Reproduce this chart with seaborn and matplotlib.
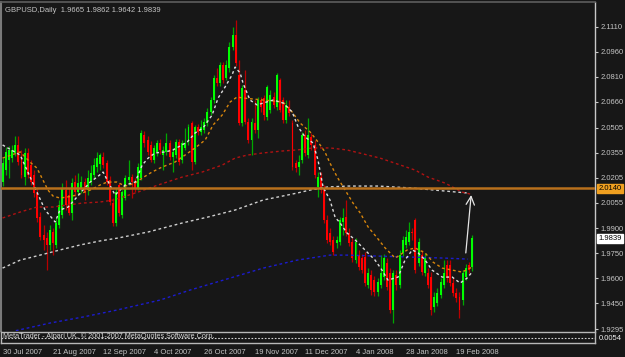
import matplotlib
matplotlib.use("Agg")
import matplotlib.pyplot as plt
import matplotlib.transforms as mtrans
import numpy as np
import pandas as pd
import seaborn as sns

# ---------------- data ----------------
symbol_title = "GBPUSD,Daily  1.9665 1.9862 1.9642 1.9839"

opens = [2.0178, 2.0250, 2.0310, 2.0322, 2.0353, 2.0401, 2.0328, 2.0208, 2.0353, 2.0280,
         2.0220, 2.0112, 1.9968, 1.9860, 1.9842, 1.9800, 1.9878, 1.9800, 1.9920, 1.9980,
         2.0130, 2.0100, 1.9992, 2.0178, 2.0118, 2.0142, 2.0178, 2.0130, 2.0178, 2.0220,
         2.0268, 2.0286, 2.0328, 2.0292, 2.0190, 2.0052, 1.9932, 2.0160, 1.9980, 2.0082,
         2.0190, 2.0208, 2.0178, 2.0142, 2.0202, 2.0461, 2.0431, 2.0401, 2.0310, 2.0359,
         2.0413, 2.0340, 2.0359, 2.0413, 2.0328, 2.0340, 2.0419, 2.0310, 2.0383, 2.0419,
         2.0533, 2.0298, 2.0509, 2.0479, 2.0491, 2.0533, 2.0599, 2.0671, 2.0803, 2.0773,
         2.0881, 2.0803, 2.0863, 2.0990, 2.1062, 2.0821, 2.0533, 2.0731, 2.0539, 2.0431,
         2.0533, 2.0491, 2.0671, 2.0683, 2.0569, 2.0611, 2.0689, 2.0629, 2.0791, 2.0671,
         2.0551, 2.0629, 2.0533, 2.0292, 2.0268, 2.0310, 2.0461, 2.0340, 2.0449, 2.0401,
         2.0148, 2.0208, 2.0130, 1.9950, 1.9872, 1.9830, 1.9812, 1.9818, 1.9938, 1.9968,
         1.9872, 1.9818, 1.9709, 1.9739, 1.9721, 1.9727, 1.9559, 1.9619, 1.9589, 1.9517,
         1.9559, 1.9607, 1.9691, 1.9631, 1.9409, 1.9619, 1.9559, 1.9752, 1.9800, 1.9818,
         1.9878, 1.9950, 1.9691, 1.9739, 1.9631, 1.9631, 1.9607, 1.9427, 1.9451, 1.9499,
         1.9559, 1.9679, 1.9679, 1.9571, 1.9511, 1.9487, 1.9469, 1.9607, 1.9679, 1.9665]
highs = [2.0322, 2.0389, 2.0395, 2.0401, 2.0455, 2.0455, 2.0371, 2.0383, 2.0383, 2.0310,
         2.0250, 2.0142, 1.9998, 1.9920, 1.9878, 1.9920, 1.9902, 1.9962, 2.0070, 2.0172,
         2.0190, 2.0142, 2.0202, 2.0220, 2.0232, 2.0214, 2.0202, 2.0250, 2.0280, 2.0322,
         2.0359, 2.0353, 2.0359, 2.0310, 2.0214, 2.0082, 2.0142, 2.0172, 2.0130, 2.0220,
         2.0310, 2.0226, 2.0202, 2.0292, 2.0491, 2.0485, 2.0455, 2.0425, 2.0401, 2.0431,
         2.0437, 2.0395, 2.0473, 2.0431, 2.0383, 2.0437, 2.0437, 2.0431, 2.0503, 2.0527,
         2.0545, 2.0521, 2.0527, 2.0551, 2.0563, 2.0623, 2.0689, 2.0821, 2.0863, 2.0899,
         2.0899, 2.0911, 2.1020, 2.1110, 2.1152, 2.0911, 2.0761, 2.0851, 2.0563, 2.0563,
         2.0671, 2.0689, 2.0689, 2.0701, 2.0761, 2.0731, 2.0719, 2.0833, 2.0803, 2.0689,
         2.0671, 2.0671, 2.0551, 2.0310, 2.0340, 2.0479, 2.0491, 2.0563, 2.0473, 2.0431,
         2.0238, 2.0238, 2.0160, 1.9980, 1.9902, 1.9854, 1.9854, 1.9968, 2.0022, 2.0070,
         1.9902, 1.9842, 1.9842, 1.9770, 1.9746, 1.9758, 1.9661, 1.9649, 1.9613, 1.9601,
         1.9739, 1.9746, 1.9721, 1.9661, 1.9649, 1.9649, 1.9770, 1.9854, 1.9890, 1.9938,
         1.9902, 1.9962, 1.9842, 1.9770, 1.9752, 1.9661, 1.9637, 1.9517, 1.9541, 1.9601,
         1.9709, 1.9709, 1.9709, 1.9601, 1.9541, 1.9517, 1.9649, 1.9685, 1.9697, 1.9862]
lows = [2.0154, 2.0220, 2.0202, 2.0298, 2.0334, 2.0280, 2.0202, 2.0160, 2.0202, 2.0160,
        2.0088, 1.9938, 1.9830, 1.9770, 1.9649, 1.9770, 1.9739, 1.9782, 1.9902, 1.9962,
        2.0010, 1.9980, 1.9950, 2.0094, 2.0100, 2.0112, 2.0070, 2.0100, 2.0160, 2.0202,
        2.0238, 2.0250, 2.0262, 2.0160, 2.0040, 1.9914, 1.9914, 1.9974, 1.9962, 2.0070,
        2.0160, 2.0082, 2.0118, 2.0130, 2.0190, 2.0389, 2.0340, 2.0298, 2.0292, 2.0334,
        2.0347, 2.0250, 2.0340, 2.0310, 2.0238, 2.0322, 2.0280, 2.0292, 2.0371, 2.0401,
        2.0250, 2.0286, 2.0461, 2.0461, 2.0473, 2.0515, 2.0581, 2.0653, 2.0755, 2.0755,
        2.0773, 2.0791, 2.0839, 2.0972, 2.0875, 2.0521, 2.0515, 2.0527, 2.0413, 2.0340,
        2.0473, 2.0443, 2.0599, 2.0551, 2.0551, 2.0593, 2.0623, 2.0611, 2.0599, 2.0533,
        2.0533, 2.0575, 2.0250, 2.0238, 2.0220, 2.0292, 2.0334, 2.0322, 2.0371, 2.0202,
        2.0088, 2.0112, 1.9932, 1.9812, 1.9800, 1.9739, 1.9782, 1.9800, 1.9860, 1.9854,
        1.9794, 1.9697, 1.9691, 1.9649, 1.9631, 1.9553, 1.9541, 1.9499, 1.9493, 1.9493,
        1.9541, 1.9589, 1.9529, 1.9391, 1.9331, 1.9529, 1.9541, 1.9733, 1.9782, 1.9800,
        1.9830, 1.9631, 1.9673, 1.9619, 1.9613, 1.9541, 1.9379, 1.9397, 1.9433, 1.9481,
        1.9541, 1.9577, 1.9553, 1.9493, 1.9457, 1.9361, 1.9439, 1.9589, 1.9631, 1.9642]
closes = [2.0292, 2.0359, 2.0371, 2.0371, 2.0401, 2.0298, 2.0220, 2.0353, 2.0220, 2.0178,
          2.0112, 1.9962, 1.9848, 1.9830, 1.9800, 1.9890, 1.9812, 1.9932, 2.0040, 2.0142,
          2.0040, 1.9992, 2.0172, 2.0118, 2.0172, 2.0178, 2.0118, 2.0202, 2.0232, 2.0280,
          2.0322, 2.0340, 2.0280, 2.0178, 2.0058, 1.9932, 2.0118, 1.9992, 2.0118, 2.0202,
          2.0208, 2.0178, 2.0142, 2.0268, 2.0473, 2.0413, 2.0359, 2.0310, 2.0383, 2.0413,
          2.0371, 2.0371, 2.0413, 2.0328, 2.0359, 2.0419, 2.0298, 2.0413, 2.0413, 2.0509,
          2.0298, 2.0509, 2.0479, 2.0509, 2.0539, 2.0599, 2.0671, 2.0803, 2.0773, 2.0881,
          2.0791, 2.0881, 2.0990, 2.1062, 2.0893, 2.0533, 2.0743, 2.0539, 2.0431, 2.0539,
          2.0491, 2.0671, 2.0629, 2.0581, 2.0749, 2.0701, 2.0641, 2.0821, 2.0611, 2.0551,
          2.0641, 2.0593, 2.0268, 2.0262, 2.0298, 2.0461, 2.0353, 2.0461, 2.0401, 2.0220,
          2.0208, 2.0130, 1.9950, 1.9830, 1.9818, 1.9758, 1.9830, 1.9950, 1.9962, 1.9872,
          1.9812, 1.9721, 1.9818, 1.9667, 1.9649, 1.9571, 1.9631, 1.9529, 1.9517, 1.9577,
          1.9631, 1.9721, 1.9547, 1.9409, 1.9631, 1.9559, 1.9739, 1.9830, 1.9848, 1.9878,
          1.9872, 1.9649, 1.9818, 1.9637, 1.9727, 1.9559, 1.9409, 1.9487, 1.9511, 1.9577,
          1.9631, 1.9601, 1.9571, 1.9511, 1.9481, 1.9409, 1.9631, 1.9661, 1.9649, 1.9839]

# moving averages, read as (bar position, price) samples
ma_fast_bar = [0, 5.6, 10.9, 13.5, 16.7, 18.2, 20.8, 23.6, 25.5, 27.8, 30.0, 31.9, 35.7, 38.9,
               42.1, 44.3, 46.2, 48.4, 51.6, 54.1, 58.6, 61.1, 63.6, 66.5, 68.4, 70.6, 72.8,
               73.8, 75.4, 76.3, 78.5, 80.8, 82.7, 85.9, 89.0, 91.9, 93.8, 96.0, 98.5, 100.1,
               101.7, 103.9, 105.5, 107.1, 109.3, 111.9, 115.0, 118.2, 120.4, 122.3, 125.5,
               127.7, 130.0, 131.9, 134.1, 136.3, 139.5, 142.7, 145.2, 147.4, 149.0]
ma_fast_val = [2.0401, 2.0340, 2.0118, 2.0010, 1.9938, 2.0010, 2.0028, 2.0088, 2.0130, 2.0178,
               2.0208, 2.0238, 2.0100, 2.0160, 2.0178, 2.0280, 2.0322, 2.0353, 2.0359, 2.0371,
               2.0419, 2.0473, 2.0503, 2.0581, 2.0683, 2.0749, 2.0821, 2.0869, 2.0833, 2.0773,
               2.0671, 2.0641, 2.0653, 2.0671, 2.0653, 2.0599, 2.0509, 2.0449, 2.0413, 2.0310,
               2.0148, 2.0070, 1.9968, 1.9932, 1.9872, 1.9830, 1.9770, 1.9709, 1.9649, 1.9589,
               1.9607, 1.9709, 1.9770, 1.9752, 1.9709, 1.9649, 1.9607, 1.9607, 1.9571, 1.9601,
               1.9637]
ma_mid_bar = [0, 5.6, 8.7, 10.9, 12.5, 14.4, 16.0, 18.2, 20.5, 23.6, 27.8, 30.9, 33.2, 36.3,
              38.9, 42.1, 44.3, 47.4, 50.6, 54.7, 57.9, 61.1, 64.3, 66.8, 69.7, 72.2, 74.4,
              76.3, 82.7, 89.0, 91.9, 94.4, 97.6, 100.1, 102.3, 103.9, 106.2, 108.7, 111.2,
              113.5, 116.0, 118.9, 121.4, 124.6, 128.4, 130.9, 134.1, 136.6, 139.5, 142.7,
              145.8, 149.0]
ma_mid_val = [2.0322, 2.0359, 2.0298, 2.0262, 2.0202, 2.0130, 2.0094, 2.0082, 2.0088, 2.0100,
              2.0130, 2.0160, 2.0178, 2.0178, 2.0154, 2.0172, 2.0202, 2.0238, 2.0268, 2.0298,
              2.0340, 2.0383, 2.0431, 2.0521, 2.0581, 2.0659, 2.0689, 2.0683, 2.0671, 2.0659,
              2.0599, 2.0533, 2.0479, 2.0419, 2.0359, 2.0292, 2.0208, 2.0130, 2.0052, 1.9992,
              1.9908, 1.9842, 1.9782, 1.9721, 1.9770, 1.9782, 1.9752, 1.9697, 1.9661, 1.9649,
              1.9637, 1.9667]
ma_slow_bar = [0, 5.6, 10.9, 16.0, 20.5, 25.5, 30.9, 35.1, 42.1, 49.3, 57.0, 63.3, 69.7, 73.8,
               77.6, 82.7, 89.0, 93.5, 98.5, 103.9, 109.3, 119.8, 130.9, 135.0, 140.4, 145.8,
               148.4]
ma_slow_val = [1.9962, 1.9998, 2.0028, 2.0028, 2.0040, 2.0052, 2.0058, 2.0070, 2.0112, 2.0160,
               2.0208, 2.0238, 2.0280, 2.0322, 2.0340, 2.0353, 2.0365, 2.0371, 2.0383, 2.0383,
               2.0371, 2.0322, 2.0250, 2.0208, 2.0172, 2.0118, 2.0106]
ma_long_bar = [0, 5.6, 11.9, 18.2, 24.6, 30.9, 36.7, 46.2, 57.0, 65.2, 73.8, 82.7, 93.5, 97.6,
               103.0, 109.3, 119.2, 130.0, 140.4, 147.7]
ma_long_val = [1.9661, 1.9709, 1.9739, 1.9770, 1.9800, 1.9824, 1.9842, 1.9878, 1.9932, 1.9968,
               2.0010, 2.0070, 2.0112, 2.0130, 2.0148, 2.0154, 2.0154, 2.0142, 2.0124, 2.0112]
ma_blue_bar = [4.2, 15.1, 25.5, 36.3, 50.0, 59.5, 72.2, 82.7, 93.5, 103.9, 109.3, 119.2, 130.0,
               140.4, 147.7]
ma_blue_val = [1.9285, 1.9331, 1.9367, 1.9409, 1.9469, 1.9529, 1.9601, 1.9661, 1.9709, 1.9739,
               1.9739, 1.9733, 1.9727, 1.9721, 1.9715]

level_price = 2.0140
last_price = 1.9839
arrow_from = (147.0, 1.9752)
arrow_to = (148.7, 2.0100)

price_ticks = [2.1110, 2.0960, 2.0810, 2.0660, 2.0505, 2.0355, 2.0205, 2.0055,
               1.9900, 1.9750, 1.9600, 1.9450, 1.9295]
date_bars = [0, 16, 32, 48, 64, 80, 96, 112, 128, 144]
date_labels = ["30 Jul 2007", "21 Aug 2007", "12 Sep 2007", "4 Oct 2007", "26 Oct 2007",
               "19 Nov 2007", "11 Dec 2007", "4 Jan 2008", "28 Jan 2008", "19 Feb 2008"]
indicator_value = "0.0054"
footer_text = "MetaTrader - Alpari UK, \u00a9 2001-2007 MetaQuotes Software Corp."

# ---------------- style ----------------
BG = "#171717"
TXT = "#c4c4c4"
sns.set_theme(style="dark", rc={"axes.facecolor": BG, "figure.facecolor": BG})
plt.rcParams["font.family"] = ["Liberation Sans", "DejaVu Sans"]

W, H = 625, 357
fig = plt.figure(figsize=(W / 100, H / 100), dpi=100)
ax = fig.add_axes([1 / W, (H - 331) / H, 594 / W, 329 / H])
axs = fig.add_axes([1 / W, (H - 343) / H, 594 / W, 11 / H], sharex=ax)
for a in (ax, axs):
    a.set_facecolor(BG)
    a.grid(False)

df = pd.DataFrame({"open": opens, "high": highs, "low": lows, "close": closes})
df["bar"] = np.arange(len(df))
df["bull"] = df["close"] >= df["open"]

# candles
wick_col = np.where(df["bull"], "#00a800", "#b80000")
body_col = np.where(df["bull"], "#00ff00", "#ff0000")
ax.vlines(df["bar"], df["low"], df["high"], colors=wick_col, lw=0.9, zorder=3)
body_bottom = df[["open", "close"]].min(axis=1)
body_h = (df["close"] - df["open"]).abs().clip(lower=0.00025)
ax.bar(df["bar"], body_h, bottom=body_bottom, width=0.62, color=body_col, linewidth=0, zorder=4)

# moving averages
dot = (0, (2, 2))
for xs, ys, col in [(ma_blue_bar, ma_blue_val, "#1c1ccf"),
                    (ma_long_bar, ma_long_val, "#cfcfcf"),
                    (ma_slow_bar, ma_slow_val, "#b01212"),
                    (ma_mid_bar, ma_mid_val, "#d8860c"),
                    (ma_fast_bar, ma_fast_val, "#dcdcdc")]:
    sns.lineplot(x=xs, y=ys, ax=ax, color=col, lw=1.0, linestyle=dot, zorder=5,
                 estimator=None, sort=False)

# horizontal level line
ax.axhline(level_price, color="#b8701c", lw=1.8, zorder=6)

# arrow
ax.annotate("", xy=arrow_to, xytext=arrow_from,
            arrowprops=dict(arrowstyle="->,head_length=0.5,head_width=0.25",
                            color="#e6e6e6", lw=0.9, shrinkA=0, shrinkB=0), zorder=7)

ax.set_xlim(-0.5, 188)
ax.set_ylim(1.9283, 2.1260)

# axes frame
for s in ax.spines.values():
    s.set_visible(False)
ax.spines["right"].set_visible(True)
ax.spines["right"].set_color("#c8c8c8")
ax.spines["right"].set_linewidth(1.0)
ax.spines["left"].set_visible(True)
ax.spines["left"].set_color("#7a7a7a")
ax.spines["left"].set_linewidth(1.5)
ax.spines["top"].set_visible(True)
ax.spines["top"].set_color("#5a5a5a")
ax.spines["top"].set_linestyle((0, (1, 1)))

ax.yaxis.tick_right()
ax.set_yticks(price_ticks)
ax.set_yticklabels([f"{v:.4f}" for v in price_ticks])
ax.tick_params(axis="y", which="both", direction="out", length=2.5, width=0.8,
               color="#c8c8c8", labelcolor=TXT, labelsize=5.5, pad=1.5, right=True, left=False)
ax.tick_params(axis="x", bottom=False, labelbottom=False)
ax.set_xlabel("")
ax.set_ylabel("")

# price labels on the right axis
trans = mtrans.blended_transform_factory(ax.transAxes, ax.transData)
ax.text(1.006, level_price, f"{level_price:.4f}", transform=trans, fontsize=5.5, color="#000000",
        va="center", ha="left", zorder=10, clip_on=False,
        bbox=dict(boxstyle="square,pad=0.15", fc="#f0a020", ec="#f0a020"))
ax.text(1.006, last_price, f"{last_price:.4f}", transform=trans, fontsize=5.5, color="#000000",
        va="center", ha="left", zorder=10, clip_on=False,
        bbox=dict(boxstyle="square,pad=0.15", fc="#ffffff", ec="#ffffff"))

# title
ax.text(0.007, 0.985, symbol_title, transform=ax.transAxes, fontsize=5.5, color=TXT,
        va="top", ha="left", zorder=10)

# indicator strip
for s in axs.spines.values():
    s.set_color("#b8b8b8")
    s.set_linewidth(1.0)
axs.set_ylim(0, 1)
axs.axhline(0.45, color="#d0d0d0", lw=0.8, linestyle=(0, (1.5, 1.5)))
axs.text(0.004, 0.95, footer_text, transform=axs.transAxes, fontsize=5.2, color="#d8d8d8",
         va="top", ha="left")
axs.text(1.006, 0.45, indicator_value, transform=axs.transAxes, fontsize=5.5, color="#f0f0f0",
         va="center", ha="left", clip_on=False)
axs.set_yticks([])
axs.set_xticks(date_bars)
axs.set_xticklabels(date_labels)
axs.tick_params(axis="x", direction="in", length=2.5, color="#c8c8c8", labelcolor=TXT,
                labelsize=5.5, pad=4)
for lab in axs.get_xticklabels():
    lab.set_ha("left")
axs.set_xlabel("")

fig.savefig("out.png", dpi=100, facecolor=BG)
